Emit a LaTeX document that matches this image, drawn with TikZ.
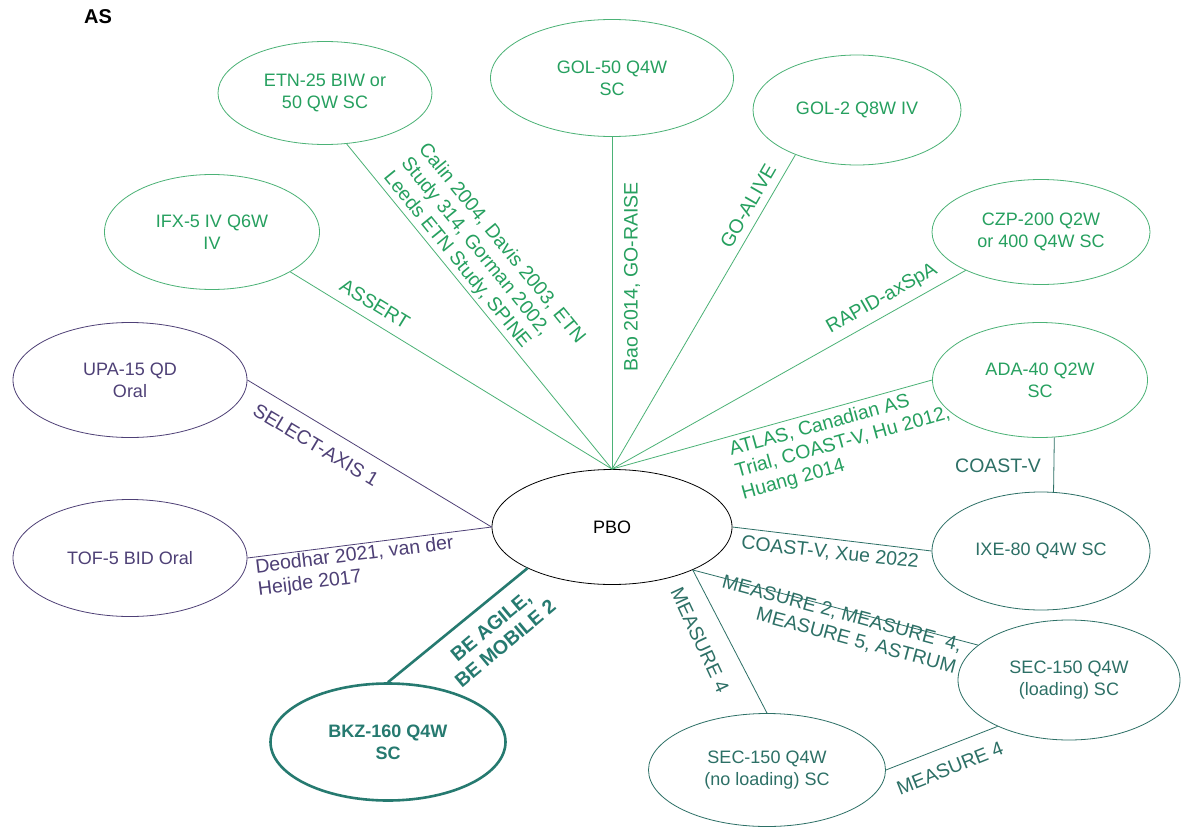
\documentclass[tikz,border=0pt]{standalone}
\usepackage{fontspec}
\setmainfont{Liberation Sans}
\usetikzlibrary{shapes.geometric}
\definecolor{gr}{RGB}{38,160,95}
\definecolor{grl}{RGB}{75,178,118}
\definecolor{pu}{RGB}{78,64,118}
\definecolor{te}{RGB}{45,112,102}
\definecolor{tb}{RGB}{38,122,112}
\newcommand\nodefont{\fontsize{18}{22}\selectfont}
\newcommand\labfont{\fontsize{19.5}{22.5}\selectfont}
\begin{document}
\begin{tikzpicture}[x=1pt,y=-1pt,
  ell/.style={ellipse, draw, inner sep=0pt, align=center, font=\nodefont, line width=0.8pt},
  gnode/.style={ell, draw=grl, text=gr},
  pnode/.style={ell, draw=pu, text=pu},
  tnode/.style={ell, draw=te, text=te},
  gline/.style={draw=grl, line width=0.8pt},
  pline/.style={draw=pu, line width=0.8pt},
  tline/.style={draw=te, line width=0.8pt},
  glab/.style={font=\labfont, text=gr, inner sep=0pt},
  plab/.style={font=\labfont, text=pu, inner sep=0pt},
  tlab/.style={font=\labfont, text=te, inner sep=0pt}]
\fill[white] (0,0) rectangle (1186,827);
\useasboundingbox (0,0) rectangle (1186,827);

\node[font=\fontsize{20}{22}\selectfont\bfseries, inner sep=0pt] (AS) at (98,17) {AS};

% nodes
\node[ell, draw=black, text=black, minimum width=240, minimum height=115] (PBO) at (612,527) {PBO};
\node[gnode, minimum width=214, minimum height=103] (ETN) at (325,93) {ETN-25 BIW or\\50 QW SC};
\node[gnode, minimum width=243, minimum height=117] (GOL50) at (612,78) {GOL-50 Q4W\\SC};
\node[gnode, minimum width=208, minimum height=110] (GOL2) at (857,110) {GOL-2 Q8W IV};
\node[gnode, minimum width=215, minimum height=115] (IFX) at (212,232) {IFX-5 IV Q6W\\IV};
\node[gnode, minimum width=218, minimum height=105] (CZP) at (1041,232) {CZP-200 Q2W\\or 400 Q4W SC};
\node[gnode, minimum width=215, minimum height=115] (ADA) at (1040,380) {ADA-40 Q2W\\SC};
\node[tnode, minimum width=218, minimum height=118] (IXE) at (1041,551) {IXE-80 Q4W SC};
\node[pnode, minimum width=234, minimum height=115] (UPA) at (130,380) {UPA-15 QD\\Oral};
\node[pnode, minimum width=234, minimum height=117] (TOF) at (130,558) {TOF-5 BID Oral};
\node[ell, draw=tb, text=tb, line width=2.6pt, font=\nodefont\bfseries, minimum width=235, minimum height=117] (BKZ) at (388,742) {BKZ-160 Q4W\\SC};
\node[tnode, minimum width=237, minimum height=113] (SECN) at (767,770) {SEC-150 Q4W\\(no loading) SC};
\node[tnode, minimum width=222, minimum height=120] (SECL) at (1069,680) {SEC-150 Q4W\\(loading) SC};

% connectors
\draw[gline] (PBO.north) -- (ETN.-67);
\draw[gline] (PBO.north) -- (GOL50.south);
\draw[gline] (PBO.north) -- (GOL2.-144);
\draw[gline] (PBO.north) -- (IFX.-27);
\draw[gline] (PBO.north) -- (CZP.-153);
\draw[gline] (PBO.north) -- (ADA.west);
\draw[pline] (UPA.east) -- (PBO.west);
\draw[pline] (TOF.east) -- (PBO.west);
\draw[draw=tb, line width=2.6pt] (BKZ.north) -- (PBO.-154.5);
\draw[tline] (PBO.east) -- (IXE.west);
\draw[tline] (ADA.-76) -- (IXE.78);
\draw[tline] (PBO.-28) -- (SECL.159);
\draw[tline] (PBO.-28) -- (SECN.north);
\draw[tline] (SECN.east) -- (SECL.-147);

% labels
\node[glab, rotate=-31.6] (lASSERT) at (375,304) {ASSERT};
\node[glab, rotate=-50.8, align=left] (lETN) at (484,258) {Calin 2004, Davis 2003, ETN\\Study 314, Gorman 2002,\\Leeds ETN Study, SPINE};
\node[glab, rotate=90] (lBAO) at (632,277) {Bao 2014, GO-RAISE};
\node[glab, rotate=60] (lGOA) at (748,206) {GO-ALIVE};
\node[glab, rotate=29.4] (lRAP) at (882,299) {RAPID-axSpA};
\node[glab, rotate=15.5, align=left] (lATL) at (843,443) {ATLAS, Canadian AS\\Trial, COAST-V, Hu 2012,\\Huang 2014};
\node[tlab] (lCV) at (998,466) {COAST-V};
\node[tlab, rotate=-6.2] (lCVX) at (830,553) {COAST-V, Xue 2022};
\node[tlab, rotate=-15, align=right] (lMS) at (839,625) {MEASURE 2, MEASURE\ \ 4,\\MEASURE 5, ASTRUM};
\node[tlab, rotate=-65] (lM4a) at (700,640) {MEASURE 4};
\node[tlab, rotate=21.7] (lM4b) at (950,768) {MEASURE 4};
\node[plab, rotate=-30.8] (lSEL) at (316,445) {SELECT-AXIS 1};
\node[plab, rotate=7, align=left] (lDEO) at (356,567) {Deodhar 2021, van der\\Heijde 2017};
\node[font=\labfont\bfseries, text=tb, inner sep=0pt, rotate=40, align=center] (lBE) at (498,635) {BE AGILE,\\BE MOBILE 2};
\end{tikzpicture}
\end{document}
